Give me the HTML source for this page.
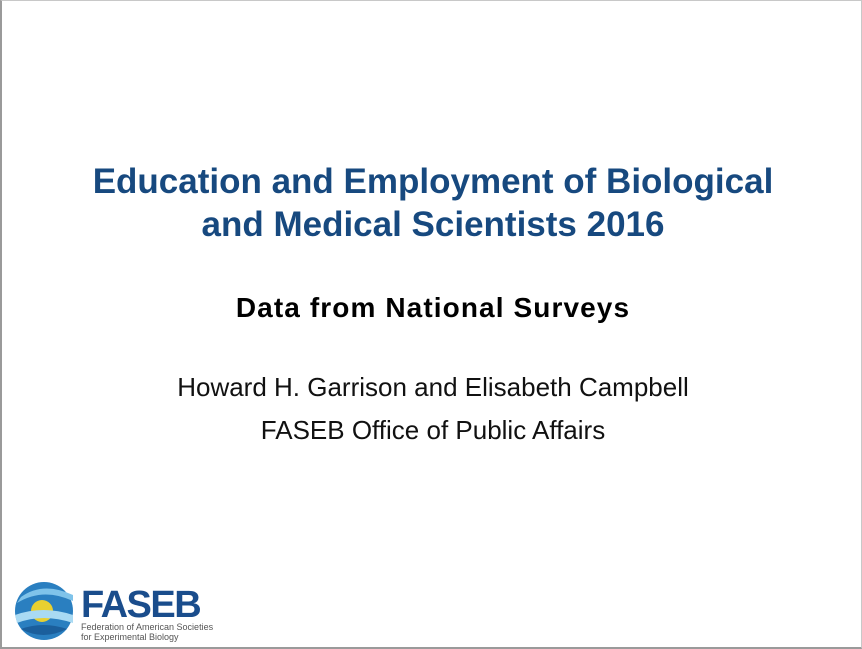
<!DOCTYPE html>
<html><head><meta charset="utf-8"><style>
html,body{margin:0;padding:0;background:#fff}
#slide{position:relative;width:862px;height:649px;overflow:hidden;background:#fff;font-family:"Liberation Sans",sans-serif;border-left:2px solid #9a9a9a;border-bottom:2px solid #9a9a9a;border-top:1px solid #c8c8c8;border-right:1px solid #c8c8c8;box-sizing:border-box}
.c{position:absolute;left:0;width:862px;text-align:center}
</style></head><body>
<div id="slide">
<div class="c" style="top:159px;font-size:35px;line-height:43px;font-weight:bold;color:#17497f">Education and Employment of Biological<br>and Medical Scientists 2016</div>
<div class="c" style="top:291px;font-size:28px;letter-spacing:1.1px;font-weight:bold;color:#000">Data from National Surveys</div>
<div class="c" style="top:365px;font-size:26px;line-height:43px;color:#111">Howard H. Garrison and Elisabeth Campbell<br>FASEB Office of Public Affairs</div>
<svg style="position:absolute;left:11px;top:580px" width="200" height="62">
<circle cx="31" cy="30" r="29" fill="#2a7fc0"/>
<path d="M4 22 Q30 6 60 20 L60 14 Q30 0 8 16Z" fill="#7fc3ea"/>
<circle cx="29" cy="30" r="11" fill="#e8d030"/>
<path d="M2 34 Q30 24 60 34 L60 42 Q30 32 4 42Z" fill="#a9daf3"/>
<path d="M8 48 Q30 40 54 48 Q30 60 8 48Z" fill="#1b5f9c"/>
<text x="68" y="36" font-family="Liberation Sans,sans-serif" font-size="38" font-weight="bold" fill="#1a4d8c" letter-spacing="-1.5">FASEB</text>
<text x="68" y="49" font-family="Liberation Sans,sans-serif" font-size="9" fill="#555">Federation of American Societies</text>
<text x="68" y="59" font-family="Liberation Sans,sans-serif" font-size="9" fill="#555">for Experimental Biology</text>
</svg>
</div>
</body></html>
